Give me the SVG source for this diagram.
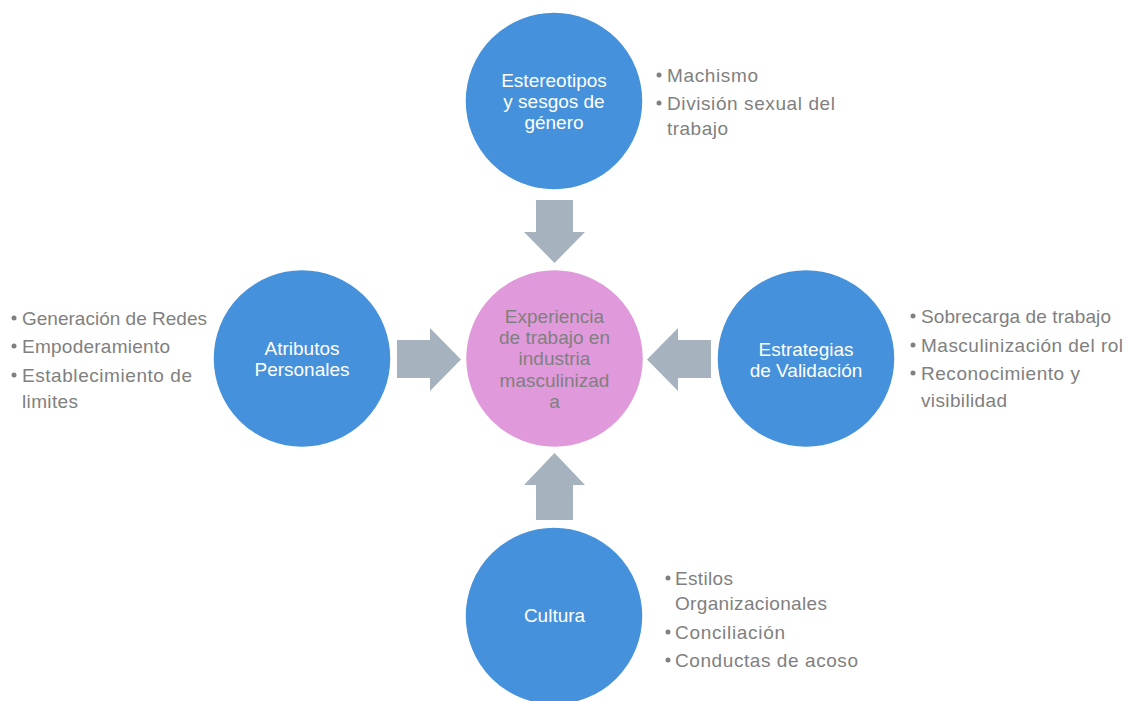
<svg xmlns="http://www.w3.org/2000/svg" width="1129" height="701" viewBox="0 0 1129 701">
<style>
.blue{fill:#4591DB;stroke:#ffffff;stroke-width:1.5}
.pink{fill:#E09ADB;stroke:#ffffff;stroke-width:1.5}
.arrow{fill:#A6B3BE}
.lbl{font-family:"Liberation Sans",Arial,sans-serif;font-size:19px;fill:#ffffff;text-anchor:middle}
.ctr{font-family:"Liberation Sans",Arial,sans-serif;font-size:19px;fill:#7F7F7F;text-anchor:middle}
.bl{font-family:"Liberation Sans",Arial,sans-serif;font-size:19px;fill:#808080}
.dot{fill:#808080}
</style>
<rect width="1129" height="701" fill="#ffffff"/>
<g id="connectors">
<polygon class="arrow" points="536,200 573,200 573,232 585,232 554.5,263 524,232 536,232"/>
<polygon class="arrow" points="536,520 573,520 573,485 585,485 554.5,453 524,485 536,485"/>
<polygon class="arrow" points="397,340 430,340 430,328 461,359.5 430,391 430,378 397,378"/>
<polygon class="arrow" points="711,340 678,340 678,328 647,359.5 678,391 678,378 711,378"/>
</g>
<g id="node-center">
<circle class="pink" cx="554.5" cy="358.5" r="89"/>
<text class="ctr" x="554.5" y="323">Experiencia</text>
<text class="ctr" x="554.5" y="344">de trabajo en</text>
<text class="ctr" x="554.5" y="365">industria</text>
<text class="ctr" x="554.5" y="387">masculinizad</text>
<text class="ctr" x="554.5" y="408">a</text>
</g>
<g id="node-top">
<circle class="blue" cx="554" cy="101" r="89"/>
<text class="lbl" x="554" y="87">Estereotipos</text>
<text class="lbl" x="554" y="108">y sesgos de</text>
<text class="lbl" x="554" y="129">género</text>
</g>
<g id="bullets-top">
<circle class="dot" cx="659" cy="75" r="2.5"/>
<text class="bl" x="667" y="82" textLength="91">Machismo</text>
<circle class="dot" cx="659" cy="103" r="2.5"/>
<text class="bl" x="667" y="110" textLength="168">División sexual del</text>
<text class="bl" x="667" y="135" textLength="61">trabajo</text>
</g>
<g id="node-left">
<circle class="blue" cx="302" cy="358.5" r="89"/>
<text class="lbl" x="302" y="355">Atributos</text>
<text class="lbl" x="302" y="376">Personales</text>
</g>
<g id="bullets-left">
<circle class="dot" cx="14" cy="318" r="2.5"/>
<text class="bl" x="22" y="325" textLength="185">Generación de Redes</text>
<circle class="dot" cx="14" cy="346" r="2.5"/>
<text class="bl" x="22" y="353" textLength="148">Empoderamiento</text>
<circle class="dot" cx="14" cy="375" r="2.5"/>
<text class="bl" x="22" y="382" textLength="170">Establecimiento de</text>
<text class="bl" x="22" y="408" textLength="56">limites</text>
</g>
<g id="node-right">
<circle class="blue" cx="806" cy="358.5" r="89"/>
<text class="lbl" x="806" y="356">Estrategias</text>
<text class="lbl" x="806" y="377">de Validación</text>
</g>
<g id="bullets-right">
<circle class="dot" cx="913" cy="316" r="2.5"/>
<text class="bl" x="921" y="323" textLength="190">Sobrecarga de trabajo</text>
<circle class="dot" cx="913" cy="345" r="2.5"/>
<text class="bl" x="921" y="352" textLength="202">Masculinización del rol</text>
<circle class="dot" cx="913" cy="373" r="2.5"/>
<text class="bl" x="921" y="380" textLength="159">Reconocimiento y</text>
<text class="bl" x="921" y="407" textLength="86">visibilidad</text>
</g>
<g id="node-bottom">
<circle class="blue" cx="554" cy="616" r="89"/>
<text class="lbl" x="554.5" y="622">Cultura</text>
</g>
<g id="bullets-bottom">
<circle class="dot" cx="668" cy="578" r="2.5"/>
<text class="bl" x="675" y="585" textLength="58">Estilos</text>
<text class="bl" x="675" y="610" textLength="152">Organizacionales</text>
<circle class="dot" cx="668" cy="632" r="2.5"/>
<text class="bl" x="675" y="639" textLength="110">Conciliación</text>
<circle class="dot" cx="668" cy="660" r="2.5"/>
<text class="bl" x="675" y="667" textLength="183">Conductas de acoso</text>
</g>
</svg>
